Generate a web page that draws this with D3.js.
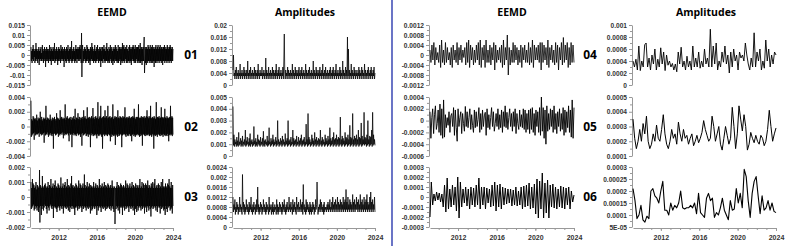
<!DOCTYPE html>
<html>
<head>
<meta charset="utf-8">
<script src="https://cdn.jsdelivr.net/npm/d3@7"></script>
<style>
  body { margin: 0; background: #fff; }
  svg { display: block; }
</style>
</head>
<body>
<svg class="chart" width="787" height="246"></svg>
<script>
// series run evenly from startYear to endYear
const startYear = 2009.1, endYear = 2024;
const yearTicks = [2012, 2016, 2020, 2024];

// EEMD components (imf01 in 1e-3, imf02/03/04 in 1e-4, imf05/06 in 1e-5)
const imf01 = [4,-3,2,-4,3,-2,5,-3,3,-1,2,-4,3,-3,6,-2,3,-3,2,-4,
  3,-2,4,-5,2,-3,3,-2,4,-3,1,-3,5,-2,3,-4,2,-3,4,-2,
  3,-6,2,-3,4,-2,3,-3,2,-4,3,-2,5,-3,2,-3,4,-5,3,-2,
  2,-3,4,-3,3,-2,6,-4,2,-3,3,-2,4,-3,2,-5,3,-3,4,-2,
  3,-3,2,-4,5,-2,3,-3,4,-2,2,-3,3,-6,4,-2,3,-3,2,-4,
  4,-3,3,-2,5,-3,2,-4,3,-3,4,-2,3,-3,7,-4,2,-3,3,-2,
  4,-3,2,-4,3,-3,5,-2,3,-4,3,-2,4,-3,3,-2,4,-3,5,-2,
  3,-4,11,-11,3,5,-4,2,-3,3,-2,4,-3,3,-4,2,-3,5,-3,4,
  -2,3,-4,3,-3,2,-5,4,-3,3,-2,6,-3,4,-3,2,-4,3,-3,5,
  -3,2,-4,3,-3,4,-2,5,-3,3,-4,2,-3,4,-3,3,-6,4,-3,2,
  -3,4,-4,3,-2,5,-3,3,-4,2,-3,4,-3,6,-3,3,-4,2,-3,4,
  -4,3,-3,5,-2,3,-4,4,-3,2,-5,3,-3,4,-4,3,-2,5,-3,4,
  -3,3,-4,2,-3,5,-4,3,-3,4,-2,3,-5,4,-3,3,-4,6,-3,4,
  -3,5,-4,3,-3,4,-2,3,-4,5,-3,3,-4,2,-3,4,-3,5,-4,3,
  -3,4,-5,3,-3,4,-2,5,-3,4,-4,3,-3,5,-4,3,-2,4,-3,4,
  -4,4,-3,5,-4,3,-3,6,-4,3,-3,4,-5,3,-3,4,-3,5,9,-9,
  -3,4,-4,3,-5,4,-3,3,-4,5,-3,4,-3,3,-4,5,-3,3,-4,4,
  -3,5,-4,3,-3,4,-6,3,-3,4,-4,5,-3,3,-4,4,-3,5,-3,3,
  -4,4,-3,5,-3,3,-4,4,-3,3,-5,4,-3,4,-3,5,-4,3,-3,4,
  -3,3,-4,5,-3,4,-3,3,-4,4,-3,5,-3,4,-4,3,-3,4,-3,3];
const imf02 = [35,-14,10,-12,8,-10,14,-9,12,-18,10,-8,11,-12,9,-10,16,-11,8,-10,
  12,-9,10,-14,11,-8,20,-10,9,-12,13,-10,8,-11,10,-9,12,-22,10,-8,
  11,-12,28,-10,9,-11,12,-8,10,-14,11,-10,9,-12,16,-9,10,-11,8,-13,
  12,-10,9,-30,11,-10,13,-9,10,-12,8,-11,18,-10,12,-9,10,-14,11,-10,
  9,-12,22,-10,11,-9,13,-11,10,-8,12,-16,10,-9,11,-12,30,-10,9,-11,
  12,-10,14,-9,11,-12,10,-20,12,-9,10,-11,13,-10,9,-28,12,-11,10,-9,
  14,-12,10,-10,24,-11,9,-13,12,-10,11,-9,18,-12,10,-11,13,-10,9,-14,
  12,-10,11,-26,13,-9,10,-12,22,-11,12,-10,14,-9,11,-13,10,-12,26,-10,
  11,-14,12,-10,13,-11,10,-28,12,-9,14,-12,11,-10,25,-13,12,-11,10,-12,
  13,-10,14,-12,11,-16,12,-10,33,-12,10,-13,12,-11,14,-10,28,-12,11,-14,
  12,-30,13,-11,14,-10,12,-13,22,-11,12,-10,14,-12,11,-13,28,-10,12,-11,
  13,-12,14,-20,11,-10,12,-14,13,-11,30,-12,10,-13,12,-11,14,-25,12,-10,
  13,-12,11,-14,22,-10,12,-13,11,-12,14,-10,13,-11,12,-28,11,-12,14,-10,
  12,-11,13,-10,26,-12,11,-14,12,-10,13,-12,11,-13,12,-11,14,-10,12,-13,
  11,-12,13,-20,12,-11,14,-10,12,-13,24,-11,12,-14,10,-12,13,-11,12,-10,
  13,-12,30,-11,12,-14,11,-13,12,-10,14,-12,11,-26,13,-10,12,-11,14,-12,
  11,-13,12,-10,14,-12,22,-11,13,-12,11,-10,14,-13,12,-11,28,-12,11,-14,
  12,-10,13,-12,11,-30,14,-11,12,-13,10,-12,33,-11,12,-14,13,-10,12,-11,
  14,-12,11,-13,12,-10,26,-12,13,-11,12,-14,11,-10,13,-12,24,-11,12,-13,
  11,-12,14,-10,12,-13,11,-20,12,-11,13,-12,28,-10,12,-11,14,-13,12,-11];
const imf03 = [10,-8,6,-7,12,-6,9,-5,8,-9,6,-8,7,-6,10,-7,5,-9,8,-6,
  7,-10,6,-7,18,-17,8,-6,7,-12,6,-8,14,-6,7,-9,6,-7,8,-5,
  9,-6,7,-8,6,-11,7,-6,10,-7,6,-9,8,-6,7,-5,12,-7,6,-8,
  7,-6,9,-14,6,-7,8,-6,11,-7,6,-8,7,-10,6,-7,9,-6,8,-7,
  6,-9,7,-6,13,-7,6,-8,7,-6,9,-11,6,-7,8,-6,10,-7,6,-8,
  7,-6,12,-7,6,-9,8,-6,7,-10,6,-7,9,-6,14,-8,7,-6,8,-7,
  6,-8,7,-12,6,-7,9,-6,8,-7,6,-9,7,-6,11,-8,6,-7,9,-6,
  8,-7,6,-10,7,-6,9,-8,6,-7,15,-6,8,-7,6,-9,7,-6,10,-7,
  6,-8,7,-6,9,-7,6,-11,8,-6,7,-9,6,-8,7,-6,10,-7,6,-8,
  7,-6,9,-7,6,-12,8,-6,7,-9,6,-7,12,-6,8,-7,6,-10,7,-6,
  9,-7,6,-8,7,-6,10,-7,6,-9,8,-6,7,-8,6,-7,9,-6,8,-7,
  6,-8,7,-6,8,-9,6,-7,11,-6,7,-8,6,-10,7,6,-18,-7,6,-8,
  7,-6,10,-7,6,-9,8,-6,7,-11,6,-7,9,-6,8,-7,6,-12,7,-6,
  8,-7,6,-9,7,-6,11,-8,6,-7,9,-6,8,-7,6,-10,7,-6,9,-7,
  6,-8,7,-6,10,-7,6,-9,8,-6,7,-12,6,-8,9,-7,6,-10,8,-6,
  7,-9,6,-7,8,-6,12,-7,6,-9,7,-6,10,-8,6,-7,9,-6,8,-11,
  6,-7,9,-6,8,-10,7,-6,11,-7,6,-9,8,-6,7,-8,6,-13,9,-7,
  7,-6,10,-8,6,-7,9,-6,12,-7,6,-9,7,-6,8,-10,6,-7,9,-6,
  8,-7,6,-11,7,-6,10,-8,6,-7,12,-6,7,-9,6,-8,7,-12,9,-6,
  7,-8,6,-10,9,-6,8,-7,12,-6,7,-9,6,-8,10,-7,6,-11,8,-6];
const imf04 = [2,-3,4,-2,5,-4,3,-2,1,-3,4,-5,6,-3,2,-4,5,-3,3,-2,
  1,-4,3,-5,4,-2,2,-3,5,-4,3,-2,4,-3,2,-1,3,-4,5,-3,
  6,-5,4,-2,3,-4,2,-3,4,-2,5,-4,6,-5,3,-2,4,-5,6,-3,
  2,-3,4,-4,3,-2,5,-6,4,-3,2,-2,3,-3,4,-5,6,-4,3,-2,
  8,-8,3,-4,2,-3,5,-3,4,-2,3,-4,2,-3,4,-5,3,-2,4,-3,
  2,-3,5,-4,3,-3,6,-5,4,-2,3,-2,4,-3,5,-6,5,-3,4,-2,
  3,-4,6,-5,3,-2,4,-3,2,-4,5,-3,4,-6,3,-2,5,-4,7,-3,
  4,-2,5,-5,3,-4,5,-3,4,-3];
const imf05 = [15,-30,5,20,-22,10,25,-15,-5,18,-20,28,-25,20,-30,35,-28,10,-12,5,
  -8,15,-20,8,12,-10,22,-25,18,-12,-35,20,-10,5,15,-22,12,-5,-18,24,
  -10,15,-12,5,20,-15,10,-8,-20,18,-12,15,-10,2,22,-20,12,-15,18,-10,
  8,14,-25,20,-12,10,-15,5,22,-10,15,-18,-5,12,-10,20,-15,10,-12,18,
  -20,15,-10,25,-12,14,-15,5,20,-10,12,-18,15,-10,20,-22,12,-5,-15,18,
  -10,10,-12,20,-15,18,-20,12,-15,18,-22,20,-15,22,-20,12,-25,18,-10,15,
  -20,22,-25,40,-18,22,-30,18,-40,25,-18,12,-15,20,-10,18,-20,25,-15,12,
  -22,15,-10,20,-18,12,-15,22,-25,18,-20,15,-12,25,-20,18,-28,35,-30,22];
const imf06 = [-20,15,-8,3,-4,5,-3,4,-5,3,-10,12,-15,19,-12,8,-10,12,-8,10,
  -14,20,-21,15,-10,8,-6,10,-9,8,-12,10,-8,9,-10,12,-8,19,-12,10,
  -8,10,-12,9,-6,8,-10,12,-9,15,-14,12,-10,13,-12,10,-8,9,-7,8,
  -6,8,-9,7,-8,10,-9,6,-8,10,-12,11,-10,12,-9,14,-12,10,-11,13,
  -17,18,-21,16,-12,24,-21,14,-16,17,-21,12,-10,13,-11,10,-12,8,-10,11,
  -11,10,-12,9,-8,10,-12,6,-5,2];

// amplitudes (amp01 in 1e-3, amp02/03/04 in 1e-4, amp05/06 in 1e-5)
const amp01 = [5,10,3,4,2,5,3,6,2,4,3,5,2,4,3,7,2,4,3,5,
  2,4,3,6,2,5,3,4,2,5,3,8,2,4,3,5,2,6,3,4,
  2,5,3,4,2,6,3,5,2,4,3,5,2,7,3,4,2,5,3,4,
  3,6,2,4,3,5,2,4,3,9,2,5,3,4,2,6,3,4,2,5,
  3,4,2,6,3,5,2,4,3,5,2,7,3,4,2,5,3,6,2,4,
  3,5,2,4,3,6,2,8,17,4,2,5,3,4,2,6,3,5,2,4,
  3,5,2,4,3,7,2,5,3,4,2,6,3,5,2,4,3,5,2,6,
  3,4,2,5,3,6,2,4,3,5,2,4,3,7,2,5,3,4,2,5,
  3,6,2,4,3,5,2,4,3,8,2,5,3,4,2,6,3,5,2,4,
  3,5,2,6,3,4,2,5,3,7,2,4,3,5,2,6,3,4,2,5,
  3,4,2,5,3,6,2,4,3,5,2,6,3,4,2,5,3,7,2,4,
  3,5,2,4,3,6,2,5,3,4,2,8,3,5,2,4,3,6,2,5,
  3,16,2,12,3,5,2,4,3,7,2,5,3,4,2,6,3,5,2,4,
  3,5,2,4,3,6,2,5,3,4,2,6,3,5,2,4,3,7,2,5,
  3,4,2,5,3,6,2,4,3,5,2,6,3,4,2,5,3,6,2,4];
const amp02 = [42,9,18,8,14,10,12,8,16,9,13,8,20,9,12,10,15,8,13,9,
  17,8,12,10,14,9,22,8,13,9,16,10,12,8,15,9,19,8,13,10,
  14,8,12,9,25,10,13,8,15,9,12,8,18,10,14,9,13,8,16,9,
  12,10,15,8,21,9,13,8,14,10,12,9,17,8,13,9,24,10,12,8,
  15,9,13,10,18,8,14,9,12,10,16,8,13,9,30,10,14,8,12,9,
  15,10,13,8,17,9,14,10,12,8,19,9,13,10,15,8,30,9,13,10,
  14,8,16,9,12,10,22,8,15,9,13,10,14,8,17,9,12,10,16,8,
  13,9,15,10,18,8,13,9,14,10,16,8,12,9,27,10,14,8,36,9,
  16,10,14,8,12,9,18,10,15,8,13,9,20,10,14,8,16,9,13,10,
  15,8,14,9,22,10,13,8,16,9,14,10,12,8,18,9,15,10,13,8,
  17,9,14,10,24,8,15,9,13,10,16,8,20,9,14,10,15,8,18,9,
  14,10,16,8,15,9,33,10,14,8,17,9,15,10,13,8,20,9,16,10,
  15,8,18,9,14,10,26,8,16,9,15,10,36,8,14,9,17,10,15,8,
  18,9,14,10,22,8,16,9,15,10,28,8,17,9,14,10,37,9,16,10,
  15,8,18,9,30,10,14,8,17,9,16,10,22,8,37,9,18,10,14,9];
const amp03 = [12,6,9,7,11,5,8,6,10,7,9,5,8,6,12,7,9,6,8,5,
  21,7,10,6,9,5,8,6,11,7,9,6,8,5,10,6,9,7,12,6,
  8,5,9,6,10,7,8,5,9,6,11,7,16,6,9,5,8,6,10,7,
  9,5,8,6,11,7,9,6,8,5,10,6,9,7,8,5,12,6,9,7,
  8,5,9,6,10,5,8,6,9,7,8,5,11,6,9,5,8,6,10,7,
  9,6,8,5,10,6,9,7,11,6,8,5,9,6,10,7,8,6,12,7,
  9,6,10,7,8,5,11,6,9,7,10,6,8,5,12,7,9,6,10,7,
  8,6,11,7,9,6,10,5,17,7,9,6,8,5,11,6,10,7,9,6,
  8,5,10,6,9,5,8,6,10,7,9,5,8,6,11,7,9,18,10,5,
  8,6,9,7,11,6,10,7,8,6,9,5,10,6,8,7,8,6,9,7,
  10,6,9,7,11,6,8,7,10,6,12,7,9,6,10,7,11,6,9,7,
  12,6,10,7,9,6,11,7,10,6,9,7,12,6,10,7,11,6,15,7,
  10,6,12,7,9,6,11,7,10,6,9,7,13,6,10,7,11,6,9,7,
  12,7,10,6,11,7,9,6,13,7,10,6,11,7,9,6,12,7,10,6,
  11,7,13,6,10,7,9,6,12,7,14,6,10,7,11,6,9,7,12,6];
const amp04 = [4,3,4.3,2.5,6.5,2.4,4,3,6.7,7,3,4.5,2.5,5,3.5,6,2.5,4.3,3,6.2,
  3.5,5.5,2.4,5,3.3,4,3,3.6,2.5,3.5,2.2,5.5,3.5,6.3,3,4,2.5,4.8,3,4,
  2.5,6.5,3,4.5,3,5.5,2.8,4,3,6,3.5,4.5,3,9.3,3,6.5,3.5,7,2.5,4,
  3,5.5,3.8,6.5,3.5,5,2,5.5,3,6,4,5,2.5,5.5,4.5,5,4,7,5,3.5,
  2.5,4.5,3,8.7,3,5.5,4,6,2.5,4,2.8,7.5,4,6,3,5,3.5,5.5,5];
const amp05 = [35,22,15,20,28,20,32,25,37,20,15,18,25,20,31,22,20,28,38,25,
  18,15,20,28,22,25,18,33,25,20,28,22,24,18,22,25,17,20,24,19,
  22,26,34,28,24,20,22,37,30,20,25,30,18,14,22,30,24,18,22,43,
  30,15,25,44,35,27,38,30,14,18,26,22,19,24,20,18,24,22,17,20,
  28,41,30,20,25,29];
const amp06 = [21,16,8.5,10,14,8,7,9.5,8.5,20,21,18,17,15,20,24,12,12,10,15,
  12,14,13,15,20,13,12.5,13,13,14,13,15,10.5,19,11,10,9,17,19,16,
  17,9,11,10,13,17,12,10,8,16,12,12.5,21,15,19,13,29,26,16,9,
  19,24,26,18,10.5,18,12,13,16,12,15,11.5,11];

// tick labels per panel
const ticks01 = ['0.015','0.01','0.005','0','-0.005','-0.01','-0.015'];
const ticks02 = ['0.004','0.002','0','-0.002','-0.004'];
const ticks03 = ['0.002','0.001','0','-0.001','-0.002'];
const ticksAmp01 = ['0.02','0.016','0.012','0.008','0.004','0'];
const ticksAmp02 = ['0.005','0.004','0.003','0.002','0.001','0'];
const ticksAmp03 = ['0.0024','0.002','0.0016','0.0012','0.0008','0.0004','0'];
const ticks04 = ['0.0012','0.0008','0.0004','0','-0.0004','-0.0008','-0.0012'];
const ticks05 = ['0.0004','0.0002','0','-0.0002','-0.0004','-0.0006'];
const ticks06 = ['0.0003','0.0002','0.0001','0','-0.0001','-0.0002','-0.0003'];
const ticksAmp04 = ['0.001','0.0008','0.0006','0.0004','0.0002','0'];
const ticksAmp05 = ['0.0005','0.0004','0.0003','0.0002','0.0001'];
const ticksAmp06 = ['0.0003','0.00025','0.0002','0.00015','0.0001','5E-05'];

// layout
const cols = [[31, 173], [233, 375], [430, 574], [633, 776]];
const rows = [[25, 85], [97, 156], [167, 227]];

const panels = [
  { col: 0, row: 0, data: imf01, unit: 1e-3, ticks: ticks01, w: 0.8 },
  { col: 0, row: 1, data: imf02, unit: 1e-4, ticks: ticks02, w: 0.8 },
  { col: 0, row: 2, data: imf03, unit: 1e-4, ticks: ticks03, w: 0.8 },
  { col: 1, row: 0, data: amp01, unit: 1e-3, ticks: ticksAmp01, w: 0.75 },
  { col: 1, row: 1, data: amp02, unit: 1e-4, ticks: ticksAmp02, w: 0.75 },
  { col: 1, row: 2, data: amp03, unit: 1e-4, ticks: ticksAmp03, w: 0.75 },
  { col: 2, row: 0, data: imf04, unit: 1e-4, ticks: ticks04, w: 0.8 },
  { col: 2, row: 1, data: imf05, unit: 1e-5, ticks: ticks05, w: 0.9 },
  { col: 2, row: 2, data: imf06, unit: 1e-5, ticks: ticks06, w: 1 },
  { col: 3, row: 0, data: amp04, unit: 1e-4, ticks: ticksAmp04, w: 0.9 },
  { col: 3, row: 1, data: amp05, unit: 1e-5, ticks: ticksAmp05, w: 1 },
  { col: 3, row: 2, data: amp06, unit: 1e-5, ticks: ticksAmp06, w: 1.1 }
];

const svg = d3.select('.chart');
const axisFont = '"Liberation Sans", Arial, sans-serif';
const titleFont = '"Open Sans", "Noto Sans", sans-serif';

panels.forEach(p => {
  const [x0, x1] = cols[p.col];
  const [y0, y1] = rows[p.row];
  const tickVals = p.ticks.map(Number);
  const lo = d3.min(tickVals), hi = d3.max(tickVals);

  const x = d3.scaleLinear().domain([startYear, endYear]).range([x0, x1]);
  const y = d3.scaleLinear().domain([lo, hi]).range([y1, y0]);
  const n = p.data.length;
  const t = i => startYear + i * (endYear - startYear) / (n - 1);

  // minor ticks halfway between labels
  const step = (hi - lo) / (tickVals.length - 1);
  const minor = d3.range(tickVals.length - 1).map(i => lo + step * (i + 0.5));

  const gMinor = svg.append('g')
    .attr('transform', 'translate(' + (x0 - 1) + ',0)')
    .call(d3.axisLeft(y).tickValues(minor).tickSize(2).tickFormat(''));
  gMinor.select('.domain').remove();
  gMinor.selectAll('line').attr('stroke', '#999');

  const gy = svg.append('g')
    .attr('transform', 'translate(' + (x0 - 1) + ',0)')
    .call(d3.axisLeft(y).tickValues(tickVals).tickSize(3).tickSizeOuter(0)
      .tickFormat((d, i) => p.ticks[i]));
  gy.select('.domain').attr('stroke', '#999');
  gy.selectAll('line').attr('stroke', '#999');
  gy.selectAll('text')
    .attr('x', -5)
    .style('font-family', axisFont)
    .style('font-weight', 'bold')
    .style('font-size', '6.6px')
    .attr('fill', '#333');

  if (p.row === 2) {
    const gxMinor = svg.append('g')
      .attr('transform', 'translate(0,' + (y1 + 1) + ')')
      .call(d3.axisBottom(x).tickValues(d3.range(2010, 2025)).tickSize(2).tickFormat(''));
    gxMinor.select('.domain').remove();
    gxMinor.selectAll('line').attr('stroke', '#999');

    const gx = svg.append('g')
      .attr('transform', 'translate(0,' + (y1 + 1) + ')')
      .call(d3.axisBottom(x).tickValues(yearTicks).tickSize(3).tickSizeOuter(0).tickFormat(d3.format('d')));
    gx.select('.domain').attr('stroke', '#999');
    gx.selectAll('line').attr('stroke', '#999');
    gx.selectAll('text')
      .attr('y', 7)
      .style('font-family', axisFont)
      .style('font-weight', 'bold')
      .style('font-size', '7px')
      .attr('fill', '#333');
  }

  const line = d3.line()
    .x((d, i) => x(t(i)))
    .y(d => y(d * p.unit));

  svg.append('path')
    .datum(p.data)
    .attr('d', line)
    .attr('fill', 'none')
    .attr('stroke', '#000')
    .attr('stroke-width', p.w)
    .attr('stroke-linejoin', 'round');
});

// column titles
const titles = [['EEMD', 112], ['Amplitudes', 305], ['EEMD', 512], ['Amplitudes', 706]];
svg.selectAll('.title')
  .data(titles)
  .enter().append('text')
  .attr('class', 'title')
  .attr('x', d => d[1])
  .attr('y', 16)
  .attr('text-anchor', 'middle')
  .style('font-family', titleFont)
  .style('font-weight', 'bold')
  .style('font-size', '10.5px')
  .text(d => d[0]);

// component numbers
const labels = ['01', '02', '03', '04', '05', '06'];
const labelX = [191, 590];
const labelY = [55, 127, 197];
svg.selectAll('.lab')
  .data(labels)
  .enter().append('text')
  .attr('class', 'lab')
  .attr('x', (d, i) => labelX[Math.floor(i / 3)])
  .attr('y', (d, i) => labelY[i % 3])
  .attr('dy', '0.35em')
  .attr('text-anchor', 'middle')
  .style('font-family', titleFont)
  .style('font-weight', 'bold')
  .style('font-size', '12px')
  .text(d => d);

// divider between the two halves
svg.append('line')
  .attr('x1', 392).attr('x2', 392)
  .attr('y1', 0).attr('y2', 246)
  .attr('stroke', '#1b2aa8')
  .attr('stroke-width', 1.3);
</script>
</body>
</html>
